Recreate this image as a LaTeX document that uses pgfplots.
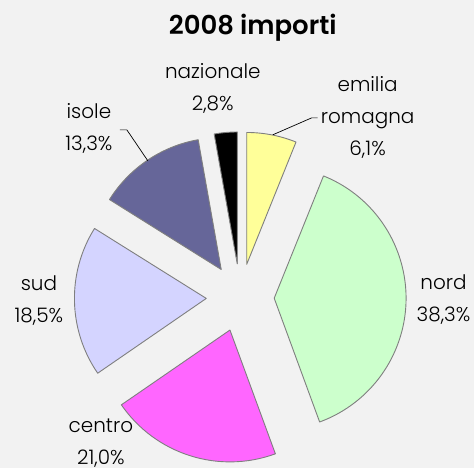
\documentclass[border=0pt]{standalone}
\usepackage{fontspec}
\setmainfont{Poppins Light}
\newfontfamily\titlefont{Poppins SemiBold}
\usepackage{pgfplots}
\usepackage{pgfplotstable}
\pgfplotsset{compat=1.18}
\definecolor{bgcol}{HTML}{F2F2F2}
\definecolor{edgegray}{HTML}{7F7F7F}
\definecolor{cEm}{HTML}{FFFF99}
\definecolor{cNo}{HTML}{CCFFCC}
\definecolor{cCe}{HTML}{FF66FF}
\definecolor{cSu}{HTML}{D4D4FF}
\definecolor{cIs}{HTML}{666699}
\definecolor{cNa}{HTML}{000000}

% shares in percent, clockwise from 12 o'clock
\pgfplotstableread{
name value col
emilia 6.1 cEm
nord 38.3 cNo
centro 21.0 cCe
sud 18.5 cSu
isole 13.3 cIs
nazionale 2.8 cNa
}\piedata
\pgfplotstablecreatecol[expr accum={\pgfmathaccuma+\thisrow{value}}{0}]{cum}{\piedata}

\newcommand{\lab}{\fontsize{20bp}{32bp}\selectfont}

\begin{document}
\begin{tikzpicture}
\fill[bgcol] (0,0) rectangle (475bp,469bp);
\begin{axis}[
  hide axis,scale only axis,width=475bp,height=469bp,
  xmin=0,xmax=475,ymin=0,ymax=469,clip=false
]
\addplot[draw=none] coordinates {(0,0) (475,469)};
\pgfplotsinvokeforeach{0,...,5}{
  \pgfplotstablegetelem{#1}{cum}\of\piedata \let\cE=\pgfplotsretval
  \pgfplotstablegetelem{#1}{value}\of\piedata \let\cV=\pgfplotsretval
  \pgfplotstablegetelem{#1}{col}\of\piedata \let\cC=\pgfplotsretval
  \pgfmathsetmacro{\aS}{90-3.6*(\cE-\cV)}
  \pgfmathsetmacro{\aE}{90-3.6*\cE}
  \pgfmathsetmacro{\aM}{(\aS+\aE)/2}
  \pgfmathsetmacro{\px}{240.5+34*cos(\aM)}
  \pgfmathsetmacro{\py}{171+34*sin(\aM)}
  \edef\temp{\noexpand\filldraw[fill=\cC,draw=edgegray,line width=0.9bp,line join=round]
    (axis cs:\px,\py) -- ++(\aS:132bp) arc[start angle=\aS,end angle=\aE,radius=132bp] -- cycle;}
  \temp
}
\draw[black,line width=0.7bp] (axis cs:120,339) -- (axis cs:127,339) -- (axis cs:148,308);
\draw[black,line width=0.7bp] (axis cs:318,351) -- (axis cs:312,351) -- (axis cs:273,334);
\node[font=\fontsize{26bp}{30bp}\titlefont] at (axis cs:253,441) {2008 importi};
\node[font=\lab,align=center] at (axis cs:213,380.5) {nazionale\\2,8\%};
\node[font=\lab,align=center] at (axis cs:368,351) {emilia\\romagna\\6,1\%};
\node[font=\lab,align=center] at (axis cs:89,340) {isole\\13,3\%};
\node[font=\lab,align=center] at (axis cs:444,169) {nord\\38,3\%};
\node[font=\lab,align=center] at (axis cs:39,168.5) {sud\\18,5\%};
\node[font=\lab,align=center] at (axis cs:101,25.5) {centro\\21,0\%};
\end{axis}
\end{tikzpicture}
\end{document}
